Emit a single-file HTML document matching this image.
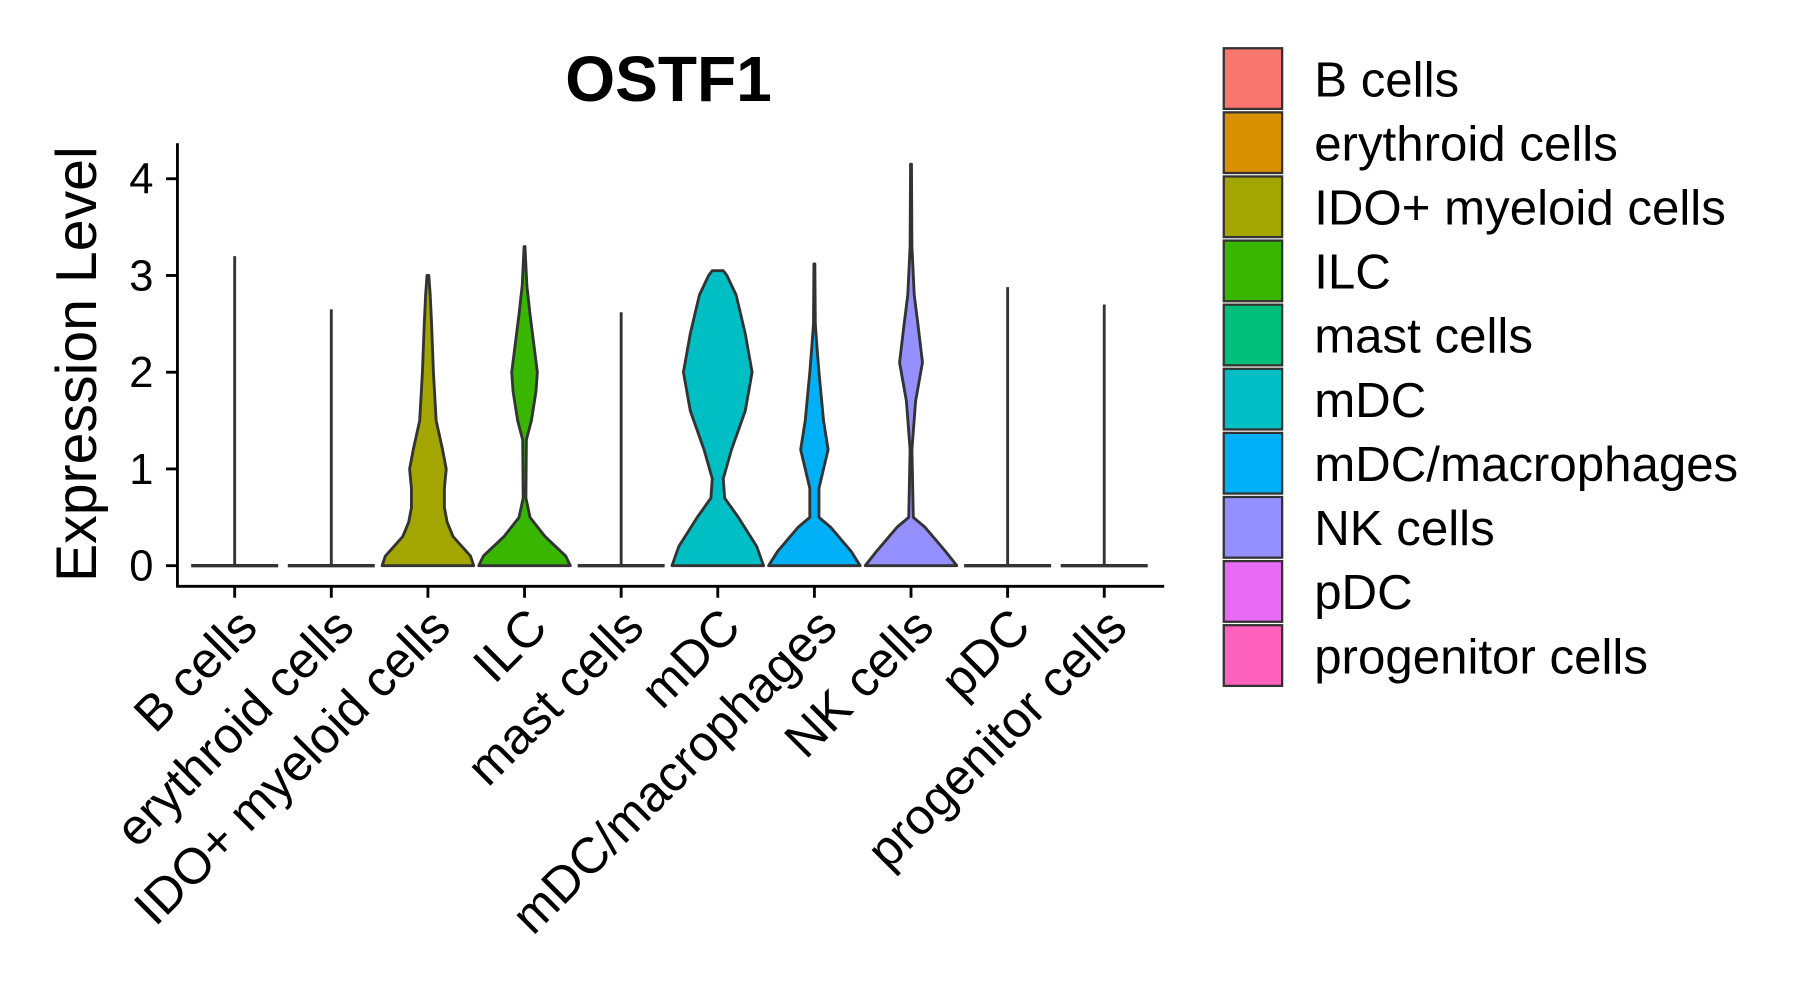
<!DOCTYPE html>
<html><head><meta charset="utf-8"><style>
html,body{margin:0;padding:0;background:#fff;}
svg{display:block;font-family:"Liberation Sans",Arial,sans-serif;}
</style></head><body>
<svg id="chart" width="1795" height="1002" viewBox="0 0 1568 875" xmlns="http://www.w3.org/2000/svg">
<text x="584" y="88" text-anchor="middle" font-size="56" font-weight="bold">OSTF1</text>
<text transform="translate(84,318) rotate(-90)" text-anchor="middle" font-size="50">Expression Level</text>
<g id="plot"></g>
<g id="legend"></g>
</svg>
<script>
const categories = ["B cells","erythroid cells","IDO+ myeloid cells","ILC","mast cells","mDC","mDC/macrophages","NK cells","pDC","progenitor cells"];
const colors = ["#F8766D","#D89000","#A3A500","#39B600","#00BF7D","#00BFC4","#00B0F6","#9590FF","#E76BF3","#FF62BC"];
const maxValues = [3.2,2.65,3.0,3.3,2.62,3.05,3.12,4.15,2.88,2.7];
const densityLevels = [
 null,null,
 [[0,1],[0.1,0.93],[0.3,0.55],[0.45,0.42],[0.6,0.36],[0.8,0.36],[1.0,0.4],[1.2,0.32],[1.5,0.18],[2.0,0.12],[2.5,0.08],[2.8,0.05],[3.0,0.02]],
 [[0,1],[0.1,0.9],[0.3,0.45],[0.5,0.12],[0.7,0.03],[1.3,0.04],[1.5,0.15],[1.8,0.25],[2.0,0.28],[2.3,0.2],[2.6,0.12],[2.9,0.05],[3.3,0.01]],
 null,
 [[0,1],[0.2,0.85],[0.5,0.45],[0.7,0.15],[0.9,0.12],[1.2,0.3],[1.6,0.6],[2.0,0.75],[2.4,0.6],[2.8,0.4],[3.0,0.2],[3.05,0.12]],
 [[0,1],[0.15,0.8],[0.4,0.35],[0.5,0.1],[0.8,0.1],[1.2,0.3],[1.5,0.2],[2.0,0.1],[2.3,0.05],[2.5,0.02],[3.12,0.01]],
 [[0,1],[0.15,0.75],[0.4,0.3],[0.5,0.05],[1.2,0.02],[1.7,0.1],[2.1,0.25],[2.5,0.15],[2.8,0.07],[3.3,0.02],[4.15,0.01]],
 null,null
];
const yTicks = [0,1,2,3,4];
const NS="http://www.w3.org/2000/svg";
const y = v => 494 - v*84.5;
const x = i => 205 + i*84.4;
const HW = 40;
function mk(tag,attrs,parent){const e=document.createElementNS(NS,tag);for(const k in attrs)e.setAttribute(k,attrs[k]);parent.appendChild(e);return e;}
const plot=document.getElementById('plot');
categories.forEach((c,i)=>{
  const cx=x(i);
  const g=mk('g',{},plot);
  
  
  const d=densityLevels[i];
  if(d){
    let pts=[];
    d.forEach(p=>pts.push((cx+p[1]*HW).toFixed(1)+','+y(p[0]).toFixed(1)));
    for(let k=d.length-1;k>=0;k--)pts.push((cx-d[k][1]*HW).toFixed(1)+','+y(d[k][0]).toFixed(1));
    mk('polygon',{points:pts.join(' '),fill:colors[i],stroke:'#333','stroke-width':2.5,'stroke-linejoin':'round'},g);
  } else {
    mk('line',{x1:cx,x2:cx,y1:y(0),y2:y(maxValues[i]),stroke:'#333','stroke-width':2.5},g);
    mk('line',{x1:cx-38,x2:cx+38,y1:y(0),y2:y(0),stroke:'#333','stroke-width':3},g);
  }
  mk('line',{x1:cx,x2:cx,y1:512,y2:522,stroke:'#000','stroke-width':2.5},plot);
  const t=mk('text',{transform:`translate(${cx+22},550) rotate(-45)`,'text-anchor':'end','font-size':44},plot);
  
  
  t.textContent=c;
});
yTicks.forEach(v=>{
  mk('line',{x1:145,x2:155,y1:y(v),y2:y(v),stroke:'#000','stroke-width':2.5},plot);
  const t=mk('text',{x:134,y:y(v)+13,'text-anchor':'end','font-size':38},plot);
  
  
  t.textContent=v;
});
const ax=mk('line',{x1:155,x2:155,y1:125,y2:513,stroke:'#000','stroke-width':2.5},plot);


const bx=mk('line',{x1:154,x2:1017,y1:512,y2:512,stroke:'#000','stroke-width':2.5},plot);


const leg=document.getElementById('legend');
categories.forEach((c,i)=>{
  const g=mk('g',{},leg);
  
  
  mk('rect',{x:1069,y:42+i*56,width:51,height:53,fill:colors[i],stroke:'#333','stroke-width':2},g);
  const t=mk('text',{x:1148,y:84+i*56,'font-size':43},g);
  t.textContent=c;
});
</script>
</body></html>
